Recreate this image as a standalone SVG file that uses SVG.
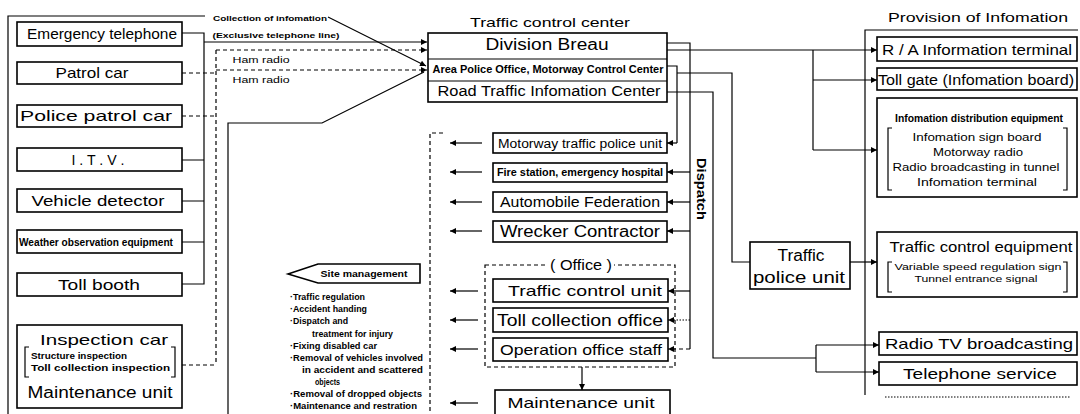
<svg xmlns="http://www.w3.org/2000/svg" width="1080" height="414" viewBox="0 0 1080 414">
<defs>
<marker id="ah" viewBox="0 0 10 10" refX="10" refY="5" markerWidth="7" markerHeight="6" orient="auto" markerUnits="userSpaceOnUse"><path d="M0,0 L10,5 L0,10 z" fill="#000"/></marker>
<style>
text{font-family:"Liberation Sans",Arial,Helvetica,sans-serif;fill:#000}
.c{text-anchor:middle}
.b{font-weight:bold}
.box{fill:#fff;stroke:#000;stroke-width:1.6}
.ln{fill:none;stroke:#000;stroke-width:1.2}
.ar{fill:none;stroke:#000;stroke-width:1.2;marker-end:url(#ah)}
.ds{stroke-dasharray:4 3}
.dt{stroke-dasharray:1.5 1.5}
.fr{fill:none;stroke:#000;stroke-width:1.2}
</style>
</defs>
<rect width="1080" height="414" fill="#fff"/>

<g id="connectors">
<!-- left frame -->
<path class="fr" d="M8,414 V16 H205"/>
<!-- solid collection lines -->
<path class="ln" d="M182,33 H204 V284 H182"/>
<path class="ln" d="M182,160 H204 M182,201 H204 M182,242 H204"/>
<path class="ar" d="M204,42 H427"/>
<!-- dashed radio lines -->
<path class="ln ds" d="M182,73 H216 M182,116 H216 M182,365 H216 M216,50 V365"/>
<path class="ar ds" d="M216,50 H427"/>
<path class="ar ds" d="M216,70 H427"/>
<!-- diagonals -->
<path class="ar" d="M328,17 L426,66"/>
<path class="ln" d="M228,414 V123 H322 L424,72"/>
<!-- from center box to right -->
<path class="ln" d="M667,43 H690 V349"/>
<path class="ar" d="M667,50 H877"/>
<path class="ln" d="M813,50 V150"/>
<path class="ar" d="M813,80 H877"/>
<path class="ar" d="M813,150 H877"/>
<path class="ln" d="M667,66 H677 V143"/>
<path class="ar" d="M677,143 H667"/>
<path class="ln" d="M677,73 H732 V262 H750"/>
<path class="ln" d="M667,92 H713 V358 H816 M816,345 V372"/>
<path class="ar" d="M816,345 H879"/>
<path class="ar" d="M816,372 H879"/>
<path class="ar" d="M850,262 H877"/>
<!-- dispatch branches -->
<path class="ar" d="M690,172 H667"/>
<path class="ar" d="M690,202 H667"/>
<path class="ar" d="M690,231 H667"/>
<path class="ar" d="M690,291 H668"/>
<path class="ar dt" d="M690,320 H668"/>
<path class="ar ds" d="M690,349 H668"/>
<path class="ar" d="M582,367 V390"/>
<!-- site management arrows -->
<path class="ar" d="M482,143 H450"/>
<path class="ar" d="M482,172 H450"/>
<path class="ar" d="M482,202 H450"/>
<path class="ar" d="M482,231 H450"/>
<path class="ar" d="M478,291 H450"/>
<path class="ar" d="M478,320 H450"/>
<path class="ar" d="M478,349 H450"/>
<path class="ar" d="M478,403 H450"/>
<path class="fr ds" d="M443,133 H430 V414"/>
<!-- provision frame -->
<path class="fr" d="M865,395 V30 H1078"/>
<path class="fr dt" d="M885,397 H1070"/>
</g>

<g id="labels">
<text x="270" y="21" class="c b" font-size="8" textLength="114" lengthAdjust="spacingAndGlyphs">Collection of infomation</text>
<text x="276" y="38" class="c b" font-size="8" textLength="127" lengthAdjust="spacingAndGlyphs">(Exclusive telephone line)</text>
<text x="261" y="63" class="c" font-size="9" textLength="57" lengthAdjust="spacingAndGlyphs">Ham radio</text>
<text x="261" y="83" class="c" font-size="9" textLength="57" lengthAdjust="spacingAndGlyphs">Ham radio</text>
<text x="550" y="27" class="c" font-size="13" textLength="160" lengthAdjust="spacingAndGlyphs">Traffic control center</text>
<text x="978" y="22" class="c" font-size="13" textLength="180" lengthAdjust="spacingAndGlyphs">Provision of Infomation</text>
<text x="0" y="0" class="c b" font-size="12" textLength="62" lengthAdjust="spacingAndGlyphs" transform="translate(697,189) rotate(90)">Dispatch</text>
</g>

<g id="n-emergency-telephone"><rect class="box" x="17" y="22" width="165" height="24"/><text x="102" y="39" class="c" font-size="14" textLength="150" lengthAdjust="spacingAndGlyphs">Emergency telephone</text></g>
<g id="n-patrol-car"><rect class="box" x="17" y="62" width="165" height="22"/><text x="92" y="78" class="c" font-size="15" textLength="73" lengthAdjust="spacingAndGlyphs">Patrol car</text></g>
<g id="n-police-patrol-car"><rect class="box" x="17" y="105" width="165" height="22"/><text x="96" y="121" class="c" font-size="15" textLength="152" lengthAdjust="spacingAndGlyphs">Police patrol car</text></g>
<g id="n-itv"><rect class="box" x="17" y="148" width="165" height="23"/><text x="98" y="165" class="c" font-size="15" textLength="53" lengthAdjust="spacingAndGlyphs">I . T . V .</text></g>
<g id="n-vehicle-detector"><rect class="box" x="17" y="189" width="165" height="23"/><text x="98" y="206" class="c" font-size="15" textLength="133" lengthAdjust="spacingAndGlyphs">Vehicle detector</text></g>
<g id="n-weather"><rect class="box" x="17" y="230" width="165" height="23"/><text x="96" y="246" class="c b" font-size="10" textLength="154" lengthAdjust="spacingAndGlyphs">Weather observation equipment</text></g>
<g id="n-toll-booth"><rect class="box" x="17" y="273" width="165" height="23"/><text x="99" y="290" class="c" font-size="15" textLength="82" lengthAdjust="spacingAndGlyphs">Toll booth</text></g>
<g id="n-inspection-car">
<rect class="box" x="17" y="325" width="165" height="83"/>
<text x="104" y="345" class="c" font-size="15" textLength="128" lengthAdjust="spacingAndGlyphs">Inspection car</text>
<text x="31" y="359" font-size="9" class="b" textLength="96" lengthAdjust="spacingAndGlyphs">Structure inspection</text>
<text x="31" y="371" font-size="9" class="b" textLength="139" lengthAdjust="spacingAndGlyphs">Toll collection inspection</text>
<text x="100" y="398" class="c" font-size="16" textLength="145" lengthAdjust="spacingAndGlyphs">Maintenance unit</text>
<path class="ln" d="M29,347 H25 V377 H29 M171,347 H175 V377 H171"/>
</g>

<g id="n-traffic-control-center">
<rect class="box" x="428" y="33" width="239" height="69"/>
<path class="ln" d="M428,59 H667 M428,81 H667"/>
<text x="547" y="50" class="c" font-size="16" textLength="123" lengthAdjust="spacingAndGlyphs">Division Breau</text>
<text x="548" y="73" class="c b" font-size="10" textLength="231" lengthAdjust="spacingAndGlyphs">Area Police Office, Motorway Control Center</text>
<text x="549" y="96" class="c" font-size="14" textLength="223" lengthAdjust="spacingAndGlyphs">Road Traffic Infomation Center</text>
</g>

<g id="n-motorway-police"><rect class="box" x="493" y="133" width="174" height="20"/><text x="580" y="148" class="c" font-size="12" textLength="164" lengthAdjust="spacingAndGlyphs">Motorway traffic police unit</text></g>
<g id="n-fire-station"><rect class="box" x="493" y="163" width="174" height="19"/><text x="580" y="176" class="c b" font-size="10" textLength="166" lengthAdjust="spacingAndGlyphs">Fire station, emergency hospital</text></g>
<g id="n-automobile-federation"><rect class="box" x="493" y="192" width="174" height="20"/><text x="580" y="207" class="c" font-size="14" textLength="160" lengthAdjust="spacingAndGlyphs">Automobile Federation</text></g>
<g id="n-wrecker"><rect class="box" x="493" y="221" width="174" height="21"/><text x="580" y="237" class="c" font-size="16" textLength="160" lengthAdjust="spacingAndGlyphs">Wrecker Contractor</text></g>

<g id="n-office">
<rect x="485" y="265" width="190" height="102" fill="none" stroke="#000" stroke-width="1.2" stroke-dasharray="4 3"/>
<rect x="548" y="258" width="66" height="14" fill="#fff"/>
<text x="581" y="270" class="c" font-size="14" textLength="62" lengthAdjust="spacingAndGlyphs">( Office )</text>
</g>
<g id="n-traffic-control-unit"><rect class="box" x="493" y="279" width="175" height="23"/><text x="585" y="296" class="c" font-size="15" textLength="154" lengthAdjust="spacingAndGlyphs">Traffic control unit</text></g>
<g id="n-toll-collection-office"><rect class="box" x="493" y="308" width="175" height="24"/><text x="580" y="326" class="c" font-size="16" textLength="166" lengthAdjust="spacingAndGlyphs">Toll collection office</text></g>
<g id="n-operation-office-staff"><rect class="box" x="493" y="338" width="175" height="23"/><text x="581" y="355" class="c" font-size="15" textLength="162" lengthAdjust="spacingAndGlyphs">Operation office staff</text></g>
<g id="n-maintenance-unit"><rect class="box" x="495" y="390" width="175" height="30"/><text x="581" y="408" class="c" font-size="15" textLength="147" lengthAdjust="spacingAndGlyphs">Maintenance unit</text></g>

<g id="n-site-management">
<path class="box" d="M288,274 L318,264 H420 V283 H318 Z" stroke-width="1.3"/>
<text x="364" y="277" class="c b" font-size="8.5" textLength="87" lengthAdjust="spacingAndGlyphs">Site management</text>
<g class="b" font-size="8.5">
<text x="290" y="300" textLength="75" lengthAdjust="spacingAndGlyphs">·Traffic regulation</text>
<text x="290" y="312" textLength="77" lengthAdjust="spacingAndGlyphs">·Accident handing</text>
<text x="290" y="324" textLength="58" lengthAdjust="spacingAndGlyphs">·Dispatch and</text>
<text x="312" y="337" textLength="81" lengthAdjust="spacingAndGlyphs">treatment for injury</text>
<text x="290" y="349" textLength="87" lengthAdjust="spacingAndGlyphs">·Fixing disabled car</text>
<text x="290" y="361" textLength="133" lengthAdjust="spacingAndGlyphs">·Removal of vehicles involved</text>
<text x="302" y="373" textLength="121" lengthAdjust="spacingAndGlyphs">in accident and scattered</text>
<text x="315" y="385" textLength="25" lengthAdjust="spacingAndGlyphs">objects</text>
<text x="290" y="397" textLength="132" lengthAdjust="spacingAndGlyphs">·Removal of dropped objects</text>
<text x="290" y="409" textLength="127" lengthAdjust="spacingAndGlyphs">·Maintenance and restration</text>
</g>
</g>

<g id="n-traffic-police-unit"><rect class="box" x="750" y="242" width="100" height="47"/><text x="801" y="261" class="c" font-size="16" textLength="47" lengthAdjust="spacingAndGlyphs">Traffic</text><text x="799" y="283" class="c" font-size="16" textLength="92" lengthAdjust="spacingAndGlyphs">police unit</text></g>

<g id="n-ra-terminal"><rect class="box" x="877" y="37" width="200" height="24"/><text x="977" y="55" class="c" font-size="15" textLength="190" lengthAdjust="spacingAndGlyphs">R / A Information terminal</text></g>
<g id="n-toll-gate"><rect class="box" x="877" y="68" width="200" height="22"/><text x="976" y="85" class="c" font-size="14" textLength="196" lengthAdjust="spacingAndGlyphs">Toll gate (Infomation board)</text></g>
<g id="n-info-distribution">
<rect class="box" x="877" y="98" width="200" height="99"/>
<text x="979" y="122" class="c b" font-size="11" textLength="168" lengthAdjust="spacingAndGlyphs">Infomation distribution equipment</text>
<text x="977" y="141" class="c" font-size="10" textLength="129" lengthAdjust="spacingAndGlyphs">Infomation sign board</text>
<text x="978" y="156" class="c" font-size="10" textLength="90" lengthAdjust="spacingAndGlyphs">Motorway radio</text>
<text x="976" y="171" class="c" font-size="10" textLength="167" lengthAdjust="spacingAndGlyphs">Radio broadcasting in tunnel</text>
<text x="977" y="186" class="c" font-size="10" textLength="120" lengthAdjust="spacingAndGlyphs">Infomation terminal</text>
<path class="ln" d="M892,128 H888 V190 H892 M1063,128 H1067 V190 H1063"/>
</g>
<g id="n-traffic-control-equipment">
<rect class="box" x="877" y="232" width="200" height="65"/>
<text x="981" y="252" class="c" font-size="14" textLength="183" lengthAdjust="spacingAndGlyphs">Traffic control equipment</text>
<text x="978" y="270" class="c" font-size="9" textLength="167" lengthAdjust="spacingAndGlyphs">Variable speed regulation sign</text>
<text x="976" y="282" class="c" font-size="9" textLength="123" lengthAdjust="spacingAndGlyphs">Tunnel entrance signal</text>
<path class="ln" d="M892,262 H888 V292 H892 M1063,262 H1067 V292 H1063"/>
</g>
<g id="n-radio-tv"><rect class="box" x="879" y="332" width="198" height="23"/><text x="979" y="349" class="c" font-size="15" textLength="188" lengthAdjust="spacingAndGlyphs">Radio TV broadcasting</text></g>
<g id="n-telephone-service"><rect class="box" x="879" y="362" width="198" height="23"/><text x="980" y="379" class="c" font-size="15" textLength="154" lengthAdjust="spacingAndGlyphs">Telephone service</text></g>
</svg>
